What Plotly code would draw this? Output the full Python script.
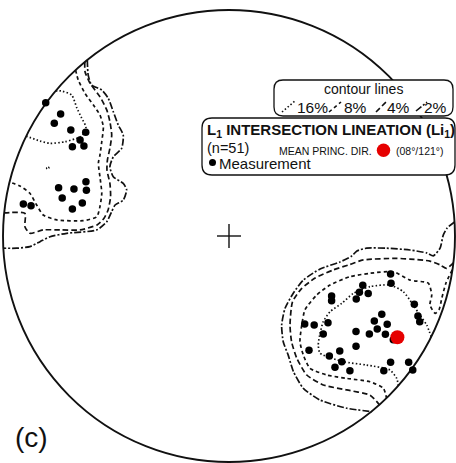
import math
import plotly.graph_objects as go

# Projected lineation poles (equal-angle net, lower hemisphere), net radius = 1
nw_x = [-0.811, -0.745, -0.773, -0.700, -0.634, -0.659, -0.693, -0.642, -0.754,
        -0.686, -0.633, -0.631, -0.738, -0.649, -0.693, -0.910, -0.876]
nw_y = [0.590, 0.540, 0.499, 0.469, 0.459, 0.425, 0.395, 0.398, 0.214,
        0.208, 0.240, 0.202, 0.168, 0.146, 0.119, 0.142, 0.134]

se_x = [0.715, 0.717, 0.592, 0.577, 0.616, 0.563, 0.454, 0.454, 0.820, 0.836,
        0.844, 0.676, 0.643, 0.700, 0.656, 0.335, 0.377, 0.438, 0.417, 0.562,
        0.621, 0.692, 0.727, 0.562, 0.354, 0.490, 0.444, 0.499, 0.469, 0.535,
        0.715, 0.795, 0.813, 0.685]
se_y = [-0.168, -0.209, -0.218, -0.249, -0.254, -0.279, -0.265, -0.286, -0.302, -0.354,
        -0.379, -0.346, -0.376, -0.391, -0.412, -0.389, -0.394, -0.384, -0.434, -0.423,
        -0.434, -0.435, -0.459, -0.488, -0.506, -0.509, -0.531, -0.556, -0.581, -0.596,
        -0.559, -0.559, -0.593, -0.596]

# Mean principal direction (plunge / trend, degrees)
mean_plunge = 8
mean_trend = 121

# Density contours (projected coordinates)
nw_16 = [(-0.767, 0.642), (-0.743, 0.642), (-0.696, 0.624), (-0.673, 0.566), (-0.652, 0.522),
         (-0.633, 0.482), (-0.645, 0.451), (-0.659, 0.438), (-0.726, 0.417), (-0.792, 0.410),
         (-0.836, 0.420), (-0.897, 0.442)]
nw_16_spot = [(-0.806, 0.302), (-0.800, 0.305), (-0.797, 0.300), (-0.801, 0.295),
              (-0.806, 0.298), (-0.806, 0.302)]
nw_8 = [(-0.679, 0.735), (-0.667, 0.690), (-0.637, 0.631), (-0.600, 0.580), (-0.571, 0.535),
        (-0.556, 0.484), (-0.563, 0.417), (-0.571, 0.358), (-0.578, 0.322), (-0.571, 0.262),
        (-0.563, 0.189), (-0.571, 0.130), (-0.585, 0.085), (-0.645, 0.068), (-0.762, 0.071),
        (-0.822, 0.093), (-0.851, 0.137), (-0.881, 0.189), (-0.925, 0.221), (-0.971, 0.239)]
nw_4 = [(-0.638, 0.770), (-0.637, 0.727), (-0.615, 0.676), (-0.571, 0.616), (-0.541, 0.558),
        (-0.527, 0.506), (-0.519, 0.447), (-0.527, 0.388), (-0.538, 0.336), (-0.540, 0.292),
        (-0.527, 0.233), (-0.524, 0.174), (-0.535, 0.115), (-0.553, 0.078), (-0.584, 0.049),
        (-0.659, 0.027), (-0.748, 0.027), (-0.822, 0.027), (-0.881, 0.012), (-0.903, 0.041),
        (-0.903, 0.100), (-0.995, 0.102)]
nw_2 = [(-0.627, 0.779), (-0.623, 0.712), (-0.608, 0.668), (-0.563, 0.646), (-0.534, 0.609),
        (-0.512, 0.550), (-0.490, 0.491), (-0.468, 0.447), (-0.475, 0.388), (-0.512, 0.350),
        (-0.527, 0.307), (-0.512, 0.262), (-0.468, 0.233), (-0.453, 0.204), (-0.468, 0.159),
        (-0.504, 0.137), (-0.519, 0.108), (-0.541, 0.063), (-0.585, 0.027), (-0.718, 0.012),
        (-0.792, -0.003), (-0.836, -0.025), (-0.881, -0.047), (-0.939, -0.054), (-0.999, -0.054)]

se_16 = [(0.895, -0.447), (0.875, -0.394), (0.845, -0.350), (0.815, -0.305), (0.771, -0.246),
         (0.712, -0.217), (0.624, -0.224), (0.550, -0.254), (0.499, -0.298), (0.447, -0.335),
         (0.417, -0.379), (0.403, -0.431), (0.395, -0.482), (0.403, -0.519), (0.506, -0.556),
         (0.609, -0.571), (0.712, -0.593), (0.742, -0.630), (0.750, -0.664)]
se_8 = [(0.988, -0.150), (0.960, -0.208), (0.942, -0.274), (0.929, -0.327), (0.912, -0.342),
        (0.889, -0.305), (0.897, -0.261), (0.882, -0.209), (0.801, -0.195), (0.727, -0.158),
        (0.624, -0.165), (0.535, -0.180), (0.447, -0.217), (0.388, -0.261), (0.336, -0.327),
        (0.322, -0.394), (0.314, -0.468), (0.329, -0.527), (0.358, -0.585), (0.432, -0.615),
        (0.521, -0.630), (0.624, -0.645), (0.683, -0.674), (0.697, -0.717)]
se_4 = [(0.993, -0.119), (0.963, -0.143), (0.934, -0.128), (0.889, -0.111), (0.801, -0.102),
        (0.742, -0.099), (0.594, -0.106), (0.535, -0.126), (0.462, -0.150), (0.381, -0.186),
        (0.319, -0.235), (0.281, -0.291), (0.270, -0.394), (0.277, -0.468), (0.300, -0.541),
        (0.344, -0.615), (0.417, -0.659), (0.521, -0.681), (0.624, -0.704), (0.654, -0.733),
        (0.666, -0.748)]
se_2 = [(0.998, 0.062), (0.965, 0.035), (0.948, 0.004), (0.934, -0.054), (0.904, -0.088),
        (0.875, -0.075), (0.801, -0.062), (0.698, -0.054), (0.609, -0.054), (0.566, -0.066),
        (0.544, -0.088), (0.491, -0.115), (0.403, -0.146), (0.329, -0.195), (0.285, -0.252),
        (0.248, -0.320), (0.233, -0.394), (0.240, -0.468), (0.262, -0.527), (0.285, -0.600),
        (0.329, -0.674), (0.403, -0.726), (0.521, -0.762), (0.633, -0.777)]

contour_labels = ["16%", "8%", "4%", "2%"]
contour_dash = {"16%": "1.5px,2.2px", "8%": "3.5px,3px", "4%": "5.5px,3px", "2%": "7px,2px,2px,2px"}
contour_sets = {"16%": [nw_16, nw_16_spot, se_16], "8%": [nw_8, se_8],
                "4%": [nw_4, se_4], "2%": [nw_2, se_2]}

# --- page geometry: 226 px per net unit, centre of net at (229, 236) px
W, H = 456, 463
CX, CY, S = 229, 236, 226


def ux(px):
    return (px - CX) / S


def uy(py):
    return (CY - py) / S


FONT = "Liberation Sans, Arial, sans-serif"
INK = "#111111"

fig = go.Figure()

for lab in contour_labels:
    for seg in contour_sets[lab]:
        fig.add_trace(go.Scatter(
            x=[p[0] for p in seg], y=[p[1] for p in seg], mode="lines",
            line=dict(color=INK, width=1.7, dash=contour_dash[lab], shape="spline", smoothing=0.6),
            hoverinfo="skip", showlegend=False))

# centre cross
arm = 12 / S
fig.add_trace(go.Scatter(x=[-arm, arm, None, 0, 0], y=[0, 0, None, -arm, arm], mode="lines",
                         line=dict(color=INK, width=1.4), hoverinfo="skip", showlegend=False))

fig.add_trace(go.Scatter(x=nw_x + se_x, y=nw_y + se_y, mode="markers",
                         marker=dict(color="black", size=7.5), showlegend=False))

mr = math.tan(math.radians(90 - mean_plunge) / 2)
mx = mr * math.sin(math.radians(mean_trend))
my = mr * math.cos(math.radians(mean_trend))
fig.add_trace(go.Scatter(x=[mx], y=[my], mode="markers",
                         marker=dict(color="#e60000", size=14), showlegend=False))

shapes = [dict(type="circle", xref="x", yref="y", x0=-1, y0=-1, x1=1, y1=1,
               line=dict(color=INK, width=1.9), layer="below")]


def rbox(l, t, r, b, rad):
    pts = (f"M {ux(l + rad)},{uy(t)} L {ux(r - rad)},{uy(t)} Q {ux(r)},{uy(t)} {ux(r)},{uy(t + rad)} "
           f"L {ux(r)},{uy(b - rad)} Q {ux(r)},{uy(b)} {ux(r - rad)},{uy(b)} "
           f"L {ux(l + rad)},{uy(b)} Q {ux(l)},{uy(b)} {ux(l)},{uy(b - rad)} "
           f"L {ux(l)},{uy(t + rad)} Q {ux(l)},{uy(t)} {ux(l + rad)},{uy(t)} Z")
    return dict(type="path", xref="x", yref="y", path=pts, fillcolor="white",
                line=dict(color=INK, width=1.3), layer="above")


shapes.append(rbox(274, 80, 453, 116, 9))
shapes.append(rbox(202, 118, 455, 175, 10))

# legend swatches for contour styles
sw = [(282, 112, 295, 101), (329, 112, 341, 102), (376, 112, 386, 102), (416, 111, 427, 102)]
for lab, (x0, y0, x1, y1) in zip(contour_labels, sw):
    shapes.append(dict(type="line", xref="x", yref="y", x0=ux(x0), y0=uy(y0), x1=ux(x1), y1=uy(y1),
                       line=dict(color=INK, width=1.6, dash=contour_dash[lab]), layer="above"))

# legend markers
shapes.append(dict(type="circle", xref="x", yref="y", x0=ux(376.8), y0=uy(143.5), x1=ux(390.2),
                   y1=uy(156.9), fillcolor="#e60000", line=dict(width=0), layer="above"))
shapes.append(dict(type="circle", xref="x", yref="y", x0=ux(209), y0=uy(159), x1=ux(216),
                   y1=uy(166), fillcolor="black", line=dict(width=0), layer="above"))

anns = []


def txt(s, px, py, size, anchor="left", bold=False):
    anns.append(dict(text=f"<b>{s}</b>" if bold else s, x=ux(px), y=uy(py), xref="x", yref="y",
                     xanchor=anchor, yanchor="middle", showarrow=False,
                     font=dict(family=FONT, size=size, color=INK)))


txt("contour lines", 363, 89, 14, anchor="center")
for lab, xl in zip(contour_labels, [295, 342, 385, 422]):
    txt(lab, xl, 107, 15.5)
txt("L<sub>1</sub> INTERSECTION LINEATION (Li<sub>1</sub>)", 205, 130, 15, bold=True)
txt("(n=51)", 205, 148, 14.5)
txt("MEAN PRINC. DIR.", 277, 151, 10.5)
txt(f"({mean_plunge:02d}°/{mean_trend}°)", 394, 151, 10.5)
txt("Measurement", 217, 163, 15)
txt("(c)", 13, 437, 28)

fig.update_layout(
    width=W, height=H, margin=dict(l=0, r=0, t=0, b=0),
    paper_bgcolor="white", plot_bgcolor="white",
    xaxis=dict(range=[ux(0), ux(W)], visible=False, fixedrange=True),
    yaxis=dict(range=[uy(H), uy(0)], visible=False, fixedrange=True),
    shapes=shapes, annotations=anns, showlegend=False)

fig.write_html("out.html")
